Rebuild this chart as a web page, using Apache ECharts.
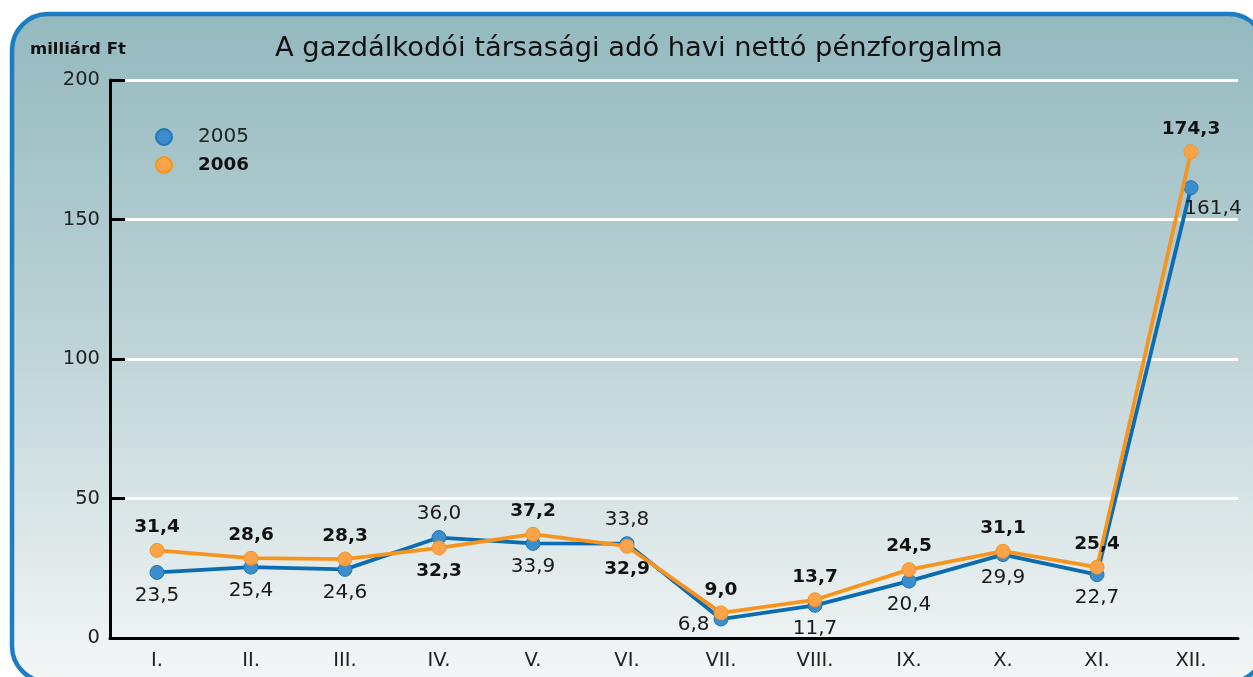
<!DOCTYPE html>
<html>
<head>
<meta charset="utf-8">
<script src="https://cdn.jsdelivr.net/npm/echarts@6/dist/echarts.min.js"></script>
<style>
  html, body { margin: 0; padding: 0; background: #fff; }
  #chart { width: 1253px; height: 677px; }
</style>
</head>
<body>
<div id="chart"></div>
<script>
  var months = ['I.', 'II.', 'III.', 'IV.', 'V.', 'VI.', 'VII.', 'VIII.', 'IX.', 'X.', 'XI.', 'XII.'];
  var values2005 = [23.5, 25.4, 24.6, 36.0, 33.9, 33.8, 6.8, 11.7, 20.4, 29.9, 22.7, 161.4];
  var values2006 = [31.4, 28.6, 28.3, 32.3, 37.2, 32.9, 9.0, 13.7, 24.5, 31.1, 25.4, 174.3];
  var yTicks = [0, 50, 100, 150, 200];

  var fontFamily = 'DejaVu Sans';
  var fmt = function (v) { return v.toFixed(1).replace('.', ','); };

  // label placement tweaks, by month index
  var labels2005 = { 3: { position: 'top' }, 5: { position: 'top' },
    6: { position: 'left', offset: [2, 6] }, 11: { position: 'bottom', offset: [22, -2] } };
  var labels2006 = { 3: { position: 'bottom' }, 5: { position: 'bottom' } };

  var buildData = function (values, tweaks) {
    return values.map(function (v, i) {
      return tweaks[i] ? { value: v, label: tweaks[i] } : v;
    });
  };

  var chart = echarts.init(document.getElementById('chart'));
  chart.setOption({
    animation: false,
    graphic: [{
      type: 'rect',
      z: -10,
      shape: { x: 12, y: 14, width: 1253, height: 668, r: 36 },
      style: {
        fill: new echarts.graphic.LinearGradient(0, 0, 0, 1, [
          { offset: 0, color: '#93b9bf' },
          { offset: 0.5, color: '#bfd4d7' },
          { offset: 1, color: '#f5f7f7' }
        ]),
        stroke: '#1b7dc2',
        lineWidth: 4.5
      }
    }, {
      type: 'text',
      left: 30, top: 41,
      style: { text: 'milliárd Ft', font: 'bold 16.5px ' + fontFamily, fill: '#111' }
    }],
    title: {
      text: 'A gazdálkodói társasági adó havi nettó pénzforgalma',
      left: 270, top: 30,
      textStyle: { fontFamily: fontFamily, fontSize: 27.3, fontWeight: 'normal', color: '#111' }
    },
    legend: {
      orient: 'vertical', left: 150, top: 122,
      itemWidth: 16, itemHeight: 16, itemGap: 9,
      icon: 'circle',
      data: ['2005', '2006'],
      formatter: function (name) { return name === '2006' ? '{b|' + name + '}' : '{n|' + name + '}'; },
      textStyle: {
        rich: {
          n: { fontFamily: fontFamily, fontSize: 20, color: '#222', padding: [0, 0, 0, 21] },
          b: { fontFamily: fontFamily, fontSize: 18.3, fontWeight: 'bold', color: '#111', padding: [0, 0, 0, 21] }
        }
      }
    },
    grid: { left: 110, right: 15, top: 80, bottom: 39, containLabel: false },
    xAxis: {
      type: 'category',
      data: months,
      boundaryGap: true,
      axisLine: { lineStyle: { color: '#000', width: 3 } },
      axisTick: { inside: true, length: 14, interval: 0, lineStyle: { color: '#000', width: 3 } },
      axisLabel: { fontFamily: fontFamily, fontSize: 19.5, color: '#222', margin: 13, interval: 0 }
    },
    yAxis: {
      type: 'value',
      min: yTicks[0], max: yTicks[yTicks.length - 1], interval: 50,
      axisLine: { show: true, lineStyle: { color: '#000', width: 3 } },
      axisTick: { show: true, inside: true, length: 15, lineStyle: { color: '#000', width: 3 } },
      axisLabel: { fontFamily: fontFamily, fontSize: 19.5, color: '#222', margin: 10 },
      splitLine: { lineStyle: { color: '#fff', width: 3 } }
    },
    series: [{
      name: '2005',
      type: 'line',
      data: buildData(values2005, labels2005),
      symbol: 'circle', symbolSize: 14,
      lineStyle: { color: '#0b6cb1', width: 3.8 },
      itemStyle: { color: '#3b8dcb', borderColor: '#1e78b8', borderWidth: 1 },
      label: {
        show: true, position: 'bottom', distance: 6,
        formatter: function (p) { return fmt(p.value); },
        fontFamily: fontFamily, fontSize: 20, color: '#1a1a1a'
      },
      z: 2
    }, {
      name: '2006',
      type: 'line',
      data: buildData(values2006, labels2006),
      symbol: 'circle', symbolSize: 14,
      lineStyle: { color: '#f7941d', width: 3.8 },
      itemStyle: { color: '#fba34a', borderColor: '#f7941d', borderWidth: 1 },
      label: {
        show: true, position: 'top', distance: 6,
        formatter: function (p) { return fmt(p.value); },
        fontFamily: fontFamily, fontSize: 18.5, fontWeight: 'bold', color: '#111'
      },
      z: 3
    }]
  });
</script>
</body>
</html>
